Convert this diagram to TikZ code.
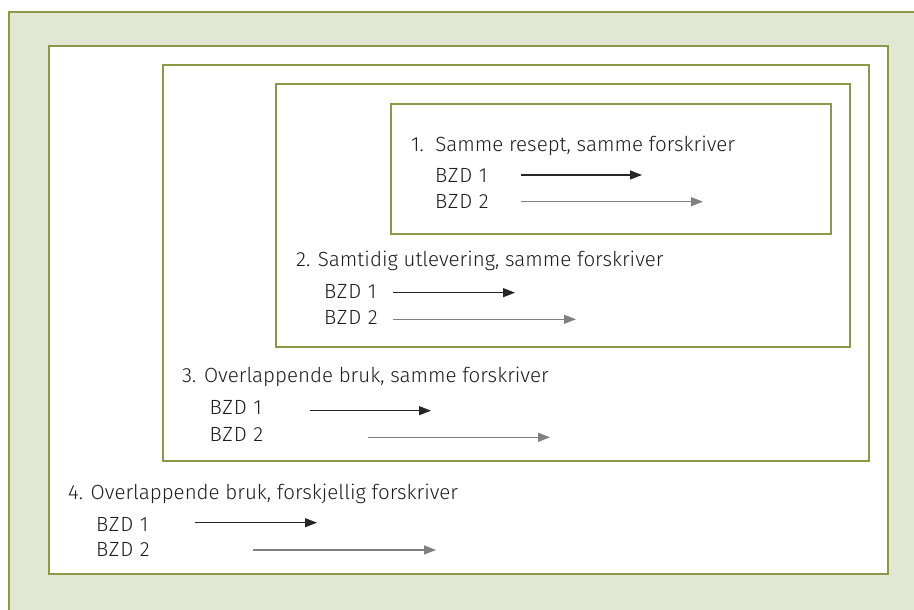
\documentclass[tikz,border=0pt]{standalone}
\usepackage{fontspec}
\setmainfont{Fira Sans}[UprightFont=* Light]
\usetikzlibrary{arrows.meta}
\definecolor{framecol}{RGB}{139,153,70}
\definecolor{bgcol}{RGB}{225,231,210}
\definecolor{textcol}{RGB}{30,30,30}
\definecolor{greycol}{RGB}{128,128,128}
\tikzset{
  frame/.style={draw=framecol,line width=2.2bp},
  label/.style={anchor=base west,inner sep=0pt,text=textcol,font=\fontsize{20.6}{24}\selectfont},
  bzdlabel/.style={label,font=\fontsize{20.6}{24}\selectfont\addfontfeatures{LetterSpace=4}},
  bzdone/.style={-{Triangle[length=12bp,width=9bp]},line width=1.3bp,black!85},
  bzdtwo/.style={-{Triangle[length=12bp,width=9bp]},line width=1.2bp,greycol},
}
\begin{document}
\begin{tikzpicture}[x=1bp,y=1bp]
  \useasboundingbox (0bp,0bp) rectangle (914bp,610bp);
  \clip (0bp,0bp) rectangle (914bp,610bp);
%%
  % Box: background
  \draw [frame,fill=bgcol] (9bp,598bp) rectangle (940bp,-30bp);
  % Box: 4
  \draw [frame,fill=white] (49bp,564bp) rectangle (888bp,36bp);
  % Box: 3
  \draw [frame] (163bp,545bp) rectangle (869bp,149bp);
  % Box: 2
  \draw [frame] (276bp,526bp) rectangle (850bp,263bp);
  % Box: 1
  \draw [frame] (391bp,506bp) rectangle (831bp,376bp);
%%
  % Node: title1
  \node [label] (title1) at (411bp,458.3bp) {1.\ \ Samme resept, samme forskriver};
  \node [bzdlabel] (bzd11) at (435bp,427.3bp) {BZD 1};
  \node [bzdlabel] (bzd12) at (435bp,401.7bp) {BZD 2};
  % Node: title2
  \node [label] (title2) at (296bp,343.3bp) {2. Samtidig utlevering, samme forskriver};
  \node [bzdlabel] (bzd21) at (324bp,311.7bp) {BZD 1};
  \node [bzdlabel] (bzd22) at (324bp,285.7bp) {BZD 2};
  % Node: title3
  \node [label] (title3) at (182bp,227bp) {3. Overlappende bruk, samme forskriver};
  \node [bzdlabel] (bzd31) at (209.5bp,195bp) {BZD 1};
  \node [bzdlabel] (bzd32) at (209.5bp,168.5bp) {BZD 2};
  % Node: title4
  \node [label] (title4) at (68bp,110bp) {4. Overlappende bruk, forskjellig forskriver};
  \node [bzdlabel] (bzd41) at (96bp,78.5bp) {BZD 1};
  \node [bzdlabel] (bzd42) at (96bp,53bp) {BZD 2};
%%
  % Edge: periods, box 1
  \coordinate (s11) at (521bp,435bp);   \coordinate (e11) at (642bp,435bp);
  \coordinate (s12) at (521bp,408.3bp); \coordinate (e12) at (703bp,408.3bp);
  \draw [bzdone] (s11) -- (e11);
  \draw [bzdtwo] (s12) -- (e12);
  % Edge: periods, box 2
  \coordinate (s21) at (393bp,317.3bp); \coordinate (e21) at (515bp,317.3bp);
  \coordinate (s22) at (393bp,290.7bp); \coordinate (e22) at (576bp,290.7bp);
  \draw [bzdone] (s21) -- (e21);
  \draw [bzdtwo] (s22) -- (e22);
  % Edge: periods, box 3
  \coordinate (s31) at (310bp,199.3bp); \coordinate (e31) at (431bp,199.3bp);
  \coordinate (s32) at (368bp,172.7bp); \coordinate (e32) at (550bp,172.7bp);
  \draw [bzdone] (s31) -- (e31);
  \draw [bzdtwo] (s32) -- (e32);
  % Edge: periods, box 4
  \coordinate (s41) at (195bp,87.3bp); \coordinate (e41) at (317bp,87.3bp);
  \coordinate (s42) at (253bp,60bp);   \coordinate (e42) at (436bp,60bp);
  \draw [bzdone] (s41) -- (e41);
  \draw [bzdtwo] (s42) -- (e42);
%
\end{tikzpicture}
\end{document}
